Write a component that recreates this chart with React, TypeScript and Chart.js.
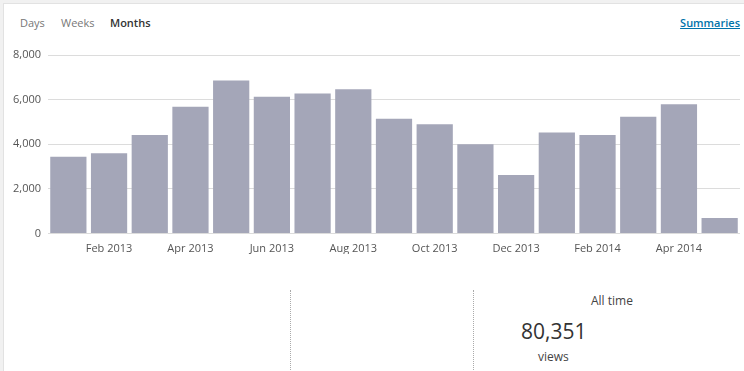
import React, { useEffect, useRef } from "react";
import { Chart, registerables } from "chart.js";

Chart.register(...registerables);

const months = [
  "Jan 2013", "Feb 2013", "Mar 2013", "Apr 2013", "May 2013", "Jun 2013",
  "Jul 2013", "Aug 2013", "Sep 2013", "Oct 2013", "Nov 2013", "Dec 2013",
  "Jan 2014", "Feb 2014", "Mar 2014", "Apr 2014", "May 2014",
];
const views = [
  3440, 3600, 4420, 5680, 6860, 6130, 6280, 6460, 5140, 4900, 4000, 2620,
  4530, 4410, 5230, 5790, 690,
];
const yTicks = [0, 2000, 4000, 6000, 8000];
const tabs = ["Days", "Weeks", "Months"];
const totalViews = "80,351";

const FONT = "'Open Sans', sans-serif";

export default function App() {
  const ref = useRef<HTMLCanvasElement | null>(null);

  useEffect(() => {
    if (!ref.current) return;
    const chart = new Chart(ref.current, {
      type: "bar",
      data: {
        labels: months,
        datasets: [
          {
            data: views,
            backgroundColor: "#a4a6b8",
            barPercentage: 0.89,
            categoryPercentage: 1,
          },
        ],
      },
      options: {
        animation: false,
        responsive: false,
        maintainAspectRatio: false,
        layout: { padding: { top: 55, right: 4, left: 0, bottom: 0 } },
        plugins: { legend: { display: false }, tooltip: { enabled: false } },
        scales: {
          x: {
            grid: { display: false, drawTicks: false },
            border: { display: false },
            ticks: {
              autoSkip: false,
              maxRotation: 0,
              padding: 9,
              color: "#555",
              font: { family: FONT, size: 11 },
              callback: (_v: any, i: number) => (i % 2 === 1 ? months[i] : ""),
            },
            afterFit: (s: any) => {
              s.height = 20.5;
            },
          },
          y: {
            min: yTicks[0],
            max: yTicks[yTicks.length - 1],
            grid: { color: "#dcdcdc", drawTicks: false },
            border: { display: false },
            afterBuildTicks: (s: any) => {
              s.ticks = yTicks.map((v) => ({ value: v }));
            },
            ticks: {
              padding: 7,
              color: "#555",
              font: { family: FONT, size: 11 },
              callback: (v: any) => Number(v).toLocaleString("en-US"),
            },
            afterFit: (s: any) => {
              s.width = 48;
            },
          },
        },
      },
    });
    return () => chart.destroy();
  }, []);

  const tabX = [20, 61, 110];

  return (
    <div
      style={{
        position: "fixed",
        left: 0,
        top: 0,
        width: 744,
        height: 371,
        background: "#f1f1f1",
        overflow: "hidden",
        fontFamily: FONT,
      }}
    >
      <div
        style={{
          position: "absolute",
          left: 3,
          top: 3,
          width: 760,
          height: 400,
          background: "#fff",
          borderLeft: "1px solid #e2e2e2",
          borderTop: "1px solid #e2e2e2",
        }}
      />
      {tabs.map((t, i) => (
        <div
          key={t}
          style={{
            position: "absolute",
            left: tabX[i],
            top: 15,
            fontSize: 11,
            lineHeight: "15px",
            color: i === 2 ? "#333" : "#777",
            fontWeight: i === 2 ? 600 : 400,
          }}
        >
          {t}
        </div>
      ))}
      <div
        style={{
          position: "absolute",
          right: 4,
          top: 15,
          fontSize: 11,
          lineHeight: "15px",
          color: "#0073aa",
          fontWeight: 600,
          textDecoration: "underline",
        }}
      >
        Summaries
      </div>
      <canvas
        ref={ref}
        width={744}
        height={254}
        style={{ position: "absolute", left: 0, top: 0, width: 744, height: 254 }}
      />
      <div
        style={{
          position: "absolute",
          left: 290,
          top: 290,
          height: 90,
          borderLeft: "1px dotted #aaa",
        }}
      />
      <div
        style={{
          position: "absolute",
          left: 473,
          top: 290,
          height: 90,
          borderLeft: "1px dotted #aaa",
        }}
      />
      <div
        style={{
          position: "absolute",
          left: 591,
          top: 293,
          fontSize: 12,
          lineHeight: "16px",
          color: "#444",
        }}
      >
        All time
      </div>
      <div
        style={{
          position: "absolute",
          left: 521,
          top: 316,
          fontSize: 21,
          lineHeight: "30px",
          color: "#333",
        }}
      >
        {totalViews}
      </div>
      <div
        style={{
          position: "absolute",
          left: 538,
          top: 349,
          fontSize: 12,
          lineHeight: "16px",
          color: "#444",
        }}
      >
        views
      </div>
    </div>
  );
}
